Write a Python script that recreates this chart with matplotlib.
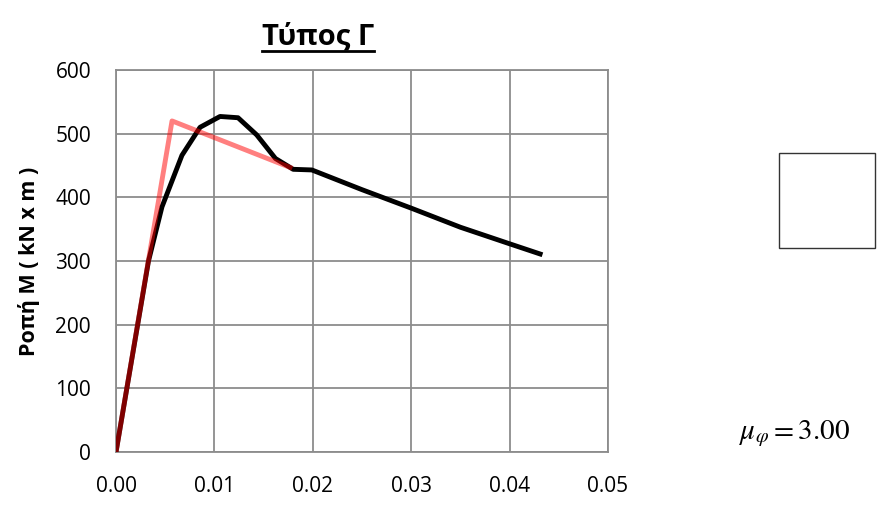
import matplotlib
matplotlib.use("Agg")
import matplotlib.pyplot as plt
from matplotlib.patches import Rectangle
from matplotlib.lines import Line2D

plt.rcParams["font.family"] = ["Open Sans", "DejaVu Sans"]
plt.rcParams["mathtext.fontset"] = "stix"

# Moment-curvature curve (black)
phi = [0.0, 0.0033, 0.00467, 0.0067, 0.00854, 0.01057, 0.0124, 0.0143, 0.0162,
       0.0180, 0.0199, 0.025, 0.030, 0.035, 0.040, 0.0431]
moment = [0, 300, 385, 466, 510, 527, 525, 498, 461, 444, 443, 412, 383, 353, 327, 311]

# Bilinear idealisation (red)
phi_bl = [0.0, 0.00569, 0.01768]
moment_bl = [0, 520, 447]

title = "Τύπος Γ"
ylabel = "Ροπή Μ ( kN x m )"
mu_phi = 3.00

fig = plt.figure(figsize=(8.83, 5.18), dpi=100)
ax = fig.add_axes([0.1314, 0.1274, 0.5572, 0.7375])

ax.plot(phi, moment, color="black", lw=3.5, solid_joinstyle="round", zorder=3)
ax.plot(phi_bl, moment_bl, color="red", alpha=0.5, lw=3.5, zorder=4)

ax.set_xlim(0, 0.05)
ax.set_ylim(0, 600)
ax.set_xticks([0.0, 0.01, 0.02, 0.03, 0.04, 0.05])
ax.set_xticklabels([f"{v:.2f}" for v in ax.get_xticks()])
ax.set_yticks(range(0, 601, 100))
ax.grid(True, color="#8c8c8c", lw=1.3)
ax.set_axisbelow(True)
for s in ax.spines.values():
    s.set_color("#8c8c8c")
    s.set_linewidth(1.3)
ax.tick_params(length=0, labelsize=15)
ax.tick_params(axis="y", pad=18)
ax.tick_params(axis="x", pad=17)
ax.set_ylabel(ylabel, fontsize=15.5, fontweight="bold")
ax.yaxis.set_label_coords(-0.155, 0.5)

t = fig.text(0.36, 0.929, title, ha="center", va="center", fontsize=21, fontweight="bold")
fig.canvas.draw()
bb = t.get_window_extent().transformed(fig.transFigure.inverted())
fig.add_artist(Line2D([bb.x0, bb.x1], [1 - 51 / 518, 1 - 51 / 518], color="black", lw=2))

# empty legend box
fig.add_artist(Rectangle((779 / 883, 1 - 248 / 518), 96 / 883, 95 / 518,
                         transform=fig.transFigure, fill=False, ec="#333333", lw=1))

fig.text(0.9, 1 - 434 / 518, rf"$\mu_{{\varphi}} = {mu_phi:.2f}$", ha="center", va="center", fontsize=21)

fig.savefig("out.png", dpi=100)
